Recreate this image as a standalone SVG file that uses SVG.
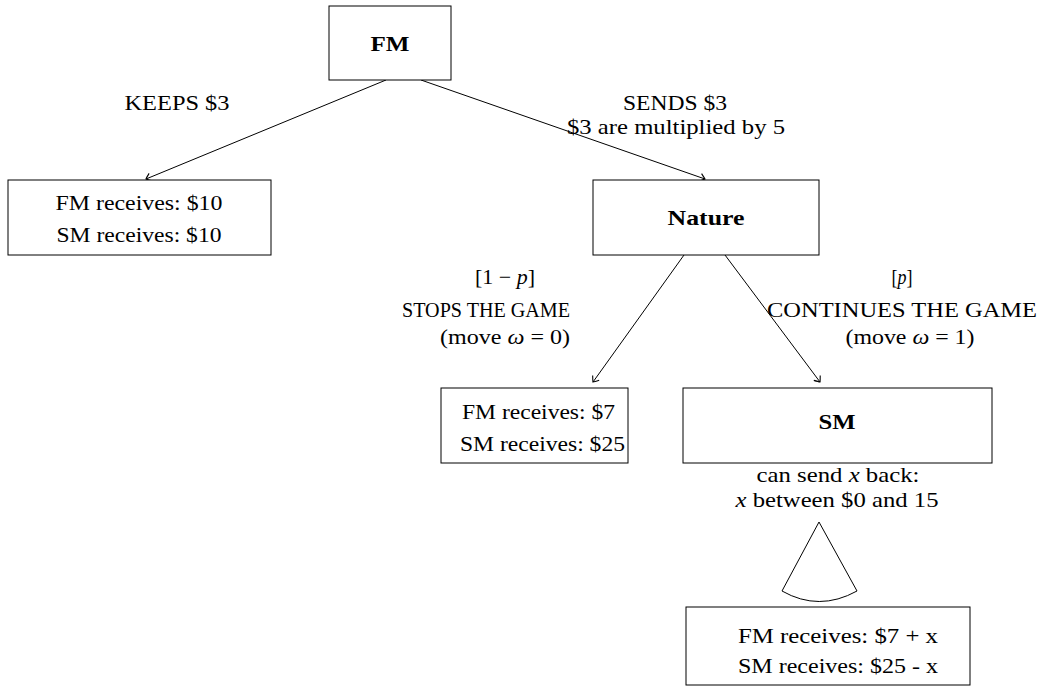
<svg xmlns="http://www.w3.org/2000/svg" width="1043" height="688" viewBox="0 0 1043 688">
<defs>
<marker id="arr" viewBox="-6 -5 8 10" markerWidth="8" markerHeight="10" refX="0" refY="0" orient="auto" markerUnits="userSpaceOnUse">
<path d="M-5,-4 Q-1,-1 0,0 Q-1,1 -5,4" fill="none" stroke="#000" stroke-width="1.1"/>
</marker>
</defs>
<style>
.box{fill:#fff;stroke:#000;stroke-width:1}
text{font-family:"Liberation Serif","DejaVu Serif",serif;font-size:21px;fill:#000}
.b{font-weight:bold}
.m{text-anchor:middle}
.i{font-style:italic}
.c line{stroke:#000;stroke-width:1;marker-end:url(#arr)}
</style>
<rect x="0" y="0" width="1043" height="688" fill="#fff"/>
<g class="c" id="connectors">
<line x1="386" y1="80" x2="146" y2="179"/>
<line x1="421" y1="80" x2="705" y2="179"/>
<line x1="684" y1="255" x2="593" y2="382"/>
<line x1="725" y1="255" x2="820" y2="382"/>
</g>
<g id="fm"><rect class="box" x="329" y="6" width="122" height="74"/><text class="b m" x="390" y="51" textLength="39" lengthAdjust="spacingAndGlyphs">FM</text></g>
<g id="leaf1"><rect class="box" x="8" y="180" width="263" height="75"/><text class="m" x="139" y="210" textLength="167" lengthAdjust="spacingAndGlyphs">FM receives: $10</text><text class="m" x="139" y="242" textLength="165" lengthAdjust="spacingAndGlyphs">SM receives: $10</text></g>
<g id="nature"><rect class="box" x="593" y="180" width="226" height="75"/><text class="b m" x="706" y="225" textLength="77" lengthAdjust="spacingAndGlyphs">Nature</text></g>
<g id="leaf2"><rect class="box" x="441" y="388" width="187" height="75"/><text x="462" y="419" textLength="153" lengthAdjust="spacingAndGlyphs">FM receives: $7</text><text x="460" y="451" textLength="165" lengthAdjust="spacingAndGlyphs">SM receives: $25</text></g>
<g id="sm"><rect class="box" x="683" y="388" width="309" height="75"/><text class="b m" x="837" y="429" textLength="37" lengthAdjust="spacingAndGlyphs">SM</text></g>
<g id="leaf3"><rect class="box" x="686" y="607" width="284" height="78"/><text x="738" y="643" textLength="200" lengthAdjust="spacingAndGlyphs">FM receives: $7 + x</text><text x="738" y="673" textLength="200" lengthAdjust="spacingAndGlyphs">SM receives: $25 - x</text></g>
<g id="cone"><path d="M819,522 L782,591 Q819,612 857,591 Z" fill="none" stroke="#000" stroke-width="1"/></g>
<g id="labels">
<text class="m" x="177" y="110" textLength="105" lengthAdjust="spacingAndGlyphs">KEEPS $3</text>
<text class="m" x="675" y="110" textLength="104" lengthAdjust="spacingAndGlyphs">SENDS $3</text>
<text class="m" x="676" y="134" textLength="218" lengthAdjust="spacingAndGlyphs">$3 are multiplied by 5</text>
<text class="m" x="505" y="284" textLength="60" lengthAdjust="spacingAndGlyphs">[1 − <tspan class="i">p</tspan>]</text>
<text class="m" x="486" y="317" textLength="168" lengthAdjust="spacingAndGlyphs">STOPS THE GAME</text>
<text class="m" x="505" y="344" textLength="130" lengthAdjust="spacingAndGlyphs">(move <tspan class="i">ω</tspan> = 0)</text>
<text class="m" x="902" y="284" textLength="21" lengthAdjust="spacingAndGlyphs">[<tspan class="i">p</tspan>]</text>
<text class="m" x="902" y="317" textLength="270" lengthAdjust="spacingAndGlyphs">CONTINUES THE GAME</text>
<text class="m" x="910" y="344" textLength="129" lengthAdjust="spacingAndGlyphs">(move <tspan class="i">ω</tspan> = 1)</text>
<text class="m" x="838" y="482" textLength="163" lengthAdjust="spacingAndGlyphs">can send <tspan class="i">x</tspan> back:</text>
<text class="m" x="837" y="507" textLength="203" lengthAdjust="spacingAndGlyphs"><tspan class="i">x</tspan> between $0 and 15</text>
</g>
</svg>
